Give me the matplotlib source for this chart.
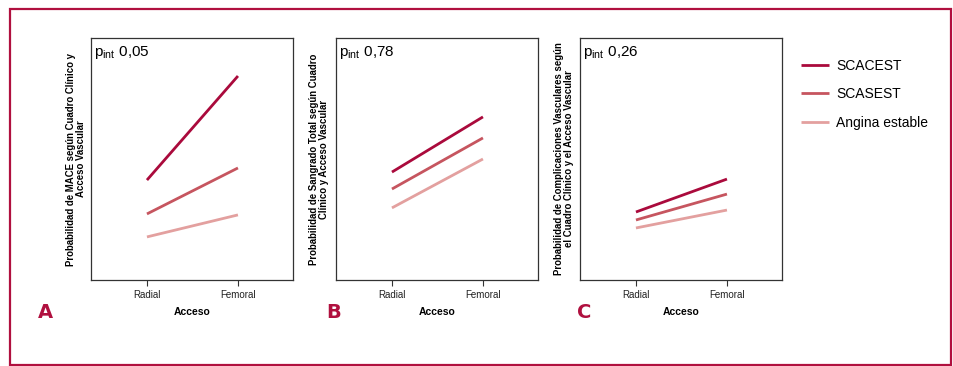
import matplotlib
matplotlib.use("Agg")
import matplotlib.pyplot as plt
from matplotlib.patches import Rectangle

plt.rcParams["font.family"] = ["Liberation Sans", "DejaVu Sans"]
plt.rcParams["mathtext.fontset"] = "custom"
plt.rcParams["mathtext.rm"] = "Liberation Sans"
plt.rcParams["mathtext.it"] = "Liberation Sans:italic"

# ── data (arbitrary probability scale) ───────────────────────────────
accesos = ["Radial", "Femoral"]
grupos = ["SCACEST", "SCASEST", "Angina estable"]

mace = [[0.413, 0.843], [0.273, 0.463], [0.178, 0.269]]
sangrado = [[0.446, 0.674], [0.376, 0.587], [0.298, 0.500]]
complic = [[0.281, 0.417], [0.248, 0.355], [0.215, 0.289]]

p_int = ["0,05", "0,78", "0,26"]
letras = ["A", "B", "C"]
ylabels = [
    "Probabilidad de MACE según Cuadro Clínico y\nAcceso Vascular",
    "Probabilidad de Sangrado Total según Cuadro\nClínico y Acceso Vascular",
    "Probabilidad de Complicaciones Vasculares según\nel Cuadro Clínico y el Acceso Vascular",
]

colores = ["#AA0A3C", "#C6555F", "#E3A09F"]
CRIMSON = "#B0103F"

W, H = 954, 366
fig = plt.figure(figsize=(W / 100, H / 100), dpi=100)

# outer frame
fig.patches.append(Rectangle((10 / W, 1 - 365 / H), 941 / W, 356 / H,
                             transform=fig.transFigure, fill=False,
                             edgecolor=CRIMSON, linewidth=1.6))

lefts = [91, 336, 580]
ylab_x = [-0.072, -0.084, -0.079]
letter_x = [38, 326, 577]
paneles = [mace, sangrado, complic]

handles = []
for i, datos in enumerate(paneles):
    ax = fig.add_axes([lefts[i] / W, 1 - 280 / H, 202 / W, 242 / H])
    x = range(len(accesos))
    for serie, c, g in zip(datos, colores, grupos):
        ln, = ax.plot(x, serie, color=c, lw=2.0, solid_capstyle="butt", label=g)
        if i == 0:
            handles.append(ln)
    ax.set_xlim(-0.615, 1.605)
    ax.set_ylim(0, 1)
    ax.set_xticks(list(x))
    ax.set_xticklabels(accesos, fontsize=7, color="#222222")
    ax.set_yticks([])
    ax.tick_params(axis="x", direction="out", length=4, width=0.8,
                   color="#333333", pad=3)
    for s in ax.spines.values():
        s.set_color("#333333")
        s.set_linewidth(0.9)
    ax.set_xlabel("Acceso", fontsize=7.5, fontweight="bold", labelpad=5)
    ax.text(ylab_x[i], 0.5, ylabels[i], transform=ax.transAxes,
            rotation=90, ha="center", va="center", fontsize=6.9,
            fontweight="bold", linespacing=1.0)
    ax.text(0.015, 0.94, r"p$_{\rm int}$ " + p_int[i], transform=ax.transAxes,
            ha="left", va="center", fontsize=11)
    fig.text(letter_x[i] / W, 1 - 312 / H, letras[i], fontsize=14,
             fontweight="bold", color=CRIMSON, ha="left", va="center",
             family="DejaVu Sans")

fig.legend(handles, grupos, loc="upper left",
           bbox_to_anchor=(789 / W, 1 - 46 / H), frameon=False,
           fontsize=10, handlelength=1.95, handletextpad=0.55,
           labelspacing=1.05)

fig.savefig("out.png", dpi=100, facecolor="white")
